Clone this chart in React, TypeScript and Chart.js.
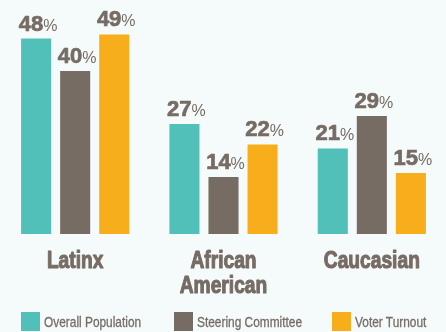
import React, { useEffect, useRef } from 'react';
import { Chart, registerables } from 'chart.js';

Chart.register(...registerables);

const categories = ['Latinx', ['African', 'American'], 'Caucasian'];
const seriesNames = ['Overall Population', 'Steering Committee', 'Voter Turnout'];
const overallPopulation = [48, 27, 21];
const steeringCommittee = [40, 14, 29];
const voterTurnout = [49, 22, 15];
const seriesColors = ['#50c0b9', '#766c64', '#f8ae1a'];

const TEXT = '#766c64';
const BG = '#f5fbfb';
const SANS = "'Liberation Sans', Arial, sans-serif";
const SQUEEZE = 0.8;

const valueLabels = {
  id: 'valueLabels',
  afterDatasetsDraw(chart: any) {
    const ctx = chart.ctx;
    chart.data.datasets.forEach((ds: any, di: number) => {
      const meta = chart.getDatasetMeta(di);
      meta.data.forEach((el: any, i: number) => {
        const num = String(ds.data[i]);
        ctx.save();
        ctx.fillStyle = TEXT;
        ctx.strokeStyle = TEXT;
        ctx.lineWidth = 0.7;
        ctx.lineJoin = 'round';
        ctx.textAlign = 'left';
        ctx.textBaseline = 'alphabetic';
        const bigFont = `bold 22px ${SANS}`;
        const smallFont = `16px ${SANS}`;
        ctx.font = bigFont;
        const w1 = ctx.measureText(num).width;
        ctx.font = smallFont;
        const w2 = ctx.measureText('%').width;
        const x0 = el.x - (w1 + w2) / 2 + 2;
        const y = el.y - 8;
        ctx.font = bigFont;
        ctx.fillText(num, x0, y);
        ctx.strokeText(num, x0, y);
        ctx.font = smallFont;
        ctx.fillText('%', x0 + w1, y);
        ctx.restore();
      });
    });
  },
};

// Category names drawn under each group, in a horizontally condensed heavy face
const categoryLabels = {
  id: 'categoryLabels',
  afterDraw(chart: any) {
    const ctx = chart.ctx;
    const xScale = chart.scales.x;
    const bottom = chart.chartArea.bottom;
    ctx.save();
    ctx.fillStyle = TEXT;
    ctx.strokeStyle = TEXT;
    ctx.lineWidth = 1.1;
    ctx.lineJoin = 'round';
    ctx.font = `bold 24px ${SANS}`;
    ctx.textAlign = 'center';
    ctx.textBaseline = 'alphabetic';
    categories.forEach((cat, i) => {
      const lines = Array.isArray(cat) ? cat : [cat];
      const cx = xScale.getPixelForValue(i);
      lines.forEach((line, li) => {
        ctx.save();
        ctx.translate(cx, bottom + 34 + li * 25);
        ctx.scale(SQUEEZE, 1);
        ctx.fillText(line, 0, 0);
        ctx.strokeText(line, 0, 0);
        ctx.restore();
      });
    });
    ctx.restore();
  },
};

export default function App() {
  const canvasRef = useRef<HTMLCanvasElement | null>(null);

  useEffect(() => {
    if (!canvasRef.current) return;
    const chart = new Chart(canvasRef.current, {
      type: 'bar',
      data: {
        labels: categories as any,
        datasets: [
          { label: seriesNames[0], data: overallPopulation, backgroundColor: seriesColors[0] },
          { label: seriesNames[1], data: steeringCommittee, backgroundColor: seriesColors[1] },
          { label: seriesNames[2], data: voterTurnout, backgroundColor: seriesColors[2] },
        ],
      },
      options: {
        responsive: false,
        animation: false,
        layout: { padding: { left: 1, right: 0, top: 10, bottom: 98 } },
        datasets: { bar: { barPercentage: 0.77, categoryPercentage: 0.79 } } as any,
        plugins: {
          legend: { display: false },
          tooltip: { enabled: false },
        },
        scales: {
          x: {
            grid: { display: false, drawTicks: false },
            border: { display: false },
            ticks: { display: false },
          },
          y: {
            display: false,
            min: 0,
            max: 55,
          },
        },
      },
      plugins: [valueLabels, categoryLabels],
    });
    return () => chart.destroy();
  }, []);

  const legendLefts = [21, 174, 332];

  return (
    <div style={{ position: 'fixed', left: 0, top: 0, width: 446, height: 332, background: BG, overflow: 'hidden' }}>
      <canvas ref={canvasRef} width={446} height={332} style={{ display: 'block', position: 'absolute', left: 0, top: 0 }} />
      {seriesNames.map((name, i) => (
        <div
          key={name}
          style={{
            position: 'absolute',
            left: legendLefts[i],
            top: 312,
            height: 19,
            display: 'flex',
            alignItems: 'center',
            fontFamily: SANS,
            fontSize: 14.5,
            color: TEXT,
            whiteSpace: 'nowrap',
          }}
        >
          <span style={{ display: 'inline-block', width: 19, height: 19, background: seriesColors[i] }} />
          <span
            style={{
              display: 'inline-block',
              marginLeft: 4,
              transform: `scaleX(${SQUEEZE + 0.02})`,
              transformOrigin: 'left center',
              WebkitTextStroke: '0.3px ' + TEXT,
            }}
          >
            {name}
          </span>
        </div>
      ))}
    </div>
  );
}
